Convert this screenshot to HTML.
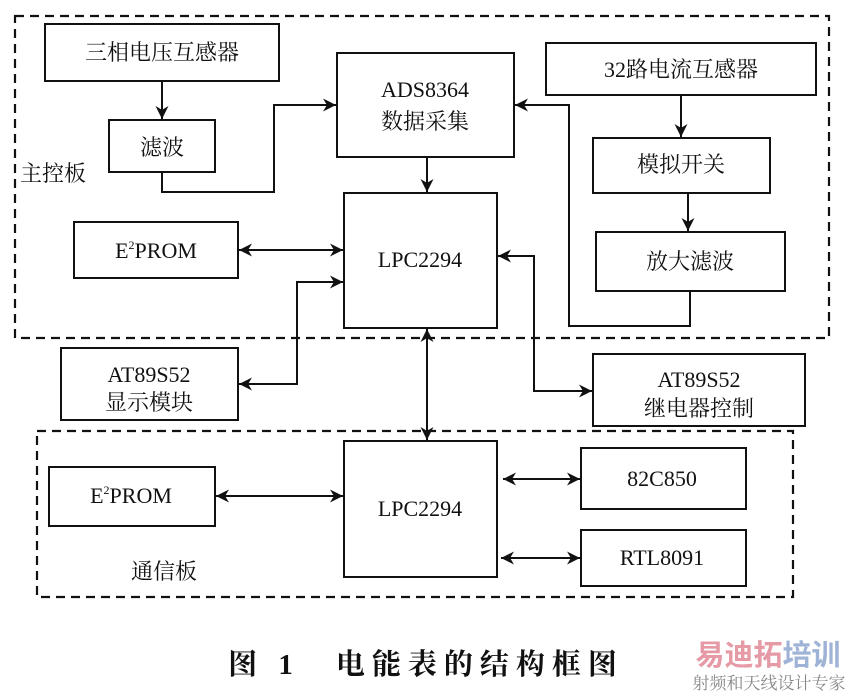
<!DOCTYPE html>
<html><head><meta charset="utf-8"><style>
html,body{margin:0;padding:0;background:#fff}
svg{display:block}
text{font-family:"Liberation Serif","Noto Serif CJK SC","Noto Sans CJK SC",serif;fill:#111}
</style></head><body>
<svg width="845" height="691" viewBox="0 0 845 691" xmlns="http://www.w3.org/2000/svg">
<defs>
<marker id="a" viewBox="0 0 10 10" refX="10" refY="5" markerWidth="13" markerHeight="13" markerUnits="userSpaceOnUse" orient="auto-start-reverse"><path d="M0,0 L10,5 L0,10 L3,5 Z" fill="#111"/></marker>
</defs>
<g fill="none" stroke="#111" stroke-width="2.2" stroke-dasharray="9,6">
<rect x="15" y="16" width="814" height="322"/>
<rect x="37" y="431" width="756" height="166"/>
</g>
<g fill="#fff" stroke="#111" stroke-width="2">
<rect x="45" y="24" width="234" height="57"/>
<rect x="109" y="120" width="106" height="52"/>
<rect x="337" y="53" width="177" height="104"/>
<rect x="546" y="43" width="270" height="52"/>
<rect x="593" y="138" width="177" height="55"/>
<rect x="596" y="232" width="189" height="59"/>
<rect x="344" y="193" width="153" height="135"/>
<rect x="74" y="222" width="164" height="56"/>
<rect x="61" y="348" width="177" height="72"/>
<rect x="593" y="354" width="212" height="72"/>
<rect x="344" y="441" width="153" height="136"/>
<rect x="49" y="467" width="166" height="59"/>
<rect x="581" y="448" width="165" height="61"/>
<rect x="581" y="530" width="165" height="56"/>
</g>
<g fill="none" stroke="#111" stroke-width="2">
<path d="M162 81 V119" marker-end="url(#a)"/>
<path d="M162 172 V192 H274 V105 H336" marker-end="url(#a)"/>
<path d="M427 157 V192" marker-end="url(#a)"/>
<path d="M681 95 V137" marker-end="url(#a)"/>
<path d="M688 193 V231" marker-end="url(#a)"/>
<path d="M690 291 V326 H569 V105 H515" marker-end="url(#a)"/>
<path d="M239 250 H343" marker-start="url(#a)" marker-end="url(#a)"/>
<path d="M239 384 H297 V282 H343" marker-start="url(#a)" marker-end="url(#a)"/>
<path d="M498 256 H534 V391 H592" marker-start="url(#a)" marker-end="url(#a)"/>
<path d="M427 329 V440" marker-start="url(#a)" marker-end="url(#a)"/>
<path d="M216 496 H343" marker-start="url(#a)" marker-end="url(#a)"/>
<path d="M503 479 H580" marker-start="url(#a)" marker-end="url(#a)"/>
<path d="M501 558 H580" marker-start="url(#a)" marker-end="url(#a)"/>
</g>
<g font-size="22" text-anchor="middle">
<text x="162" y="60">三相电压互感器</text>
<text x="162" y="155">滤波</text>
<text x="425" y="97">ADS8364</text>
<text x="425" y="129">数据采集</text>
<text x="681" y="77">32路电流互感器</text>
<text x="681" y="172">模拟开关</text>
<text x="690" y="269">放大滤波</text>
<text x="420" y="267">LPC2294</text>
<text x="156" y="258">E<tspan font-size="12" dy="-9">2</tspan><tspan dy="9">PROM</tspan></text>
<text x="149" y="382">AT89S52</text>
<text x="149" y="410">显示模块</text>
<text x="699" y="387">AT89S52</text>
<text x="699" y="416">继电器控制</text>
<text x="420" y="516">LPC2294</text>
<text x="131" y="503">E<tspan font-size="12" dy="-9">2</tspan><tspan dy="9">PROM</tspan></text>
<text x="662" y="486">82C850</text>
<text x="662" y="565">RTL8091</text>
</g>
<text x="20" y="181" font-size="22">主控板</text>
<text x="131" y="579" font-size="22">通信板</text>
<text x="426" y="674" font-size="29" text-anchor="middle" letter-spacing="7" font-weight="bold">图 1　电能表的结构框图</text>
<text x="768" y="665" font-size="29" text-anchor="middle" style="font-family:'Noto Sans CJK SC',sans-serif;font-weight:bold;fill:#e59aa6">易迪拓<tspan style="fill:#9fb3d6">培训</tspan></text>
<text x="769" y="689" font-size="17" text-anchor="middle" style="font-family:'Noto Serif CJK SC',serif;fill:#888">射频和天线设计专家</text>
</svg>
</body></html>
